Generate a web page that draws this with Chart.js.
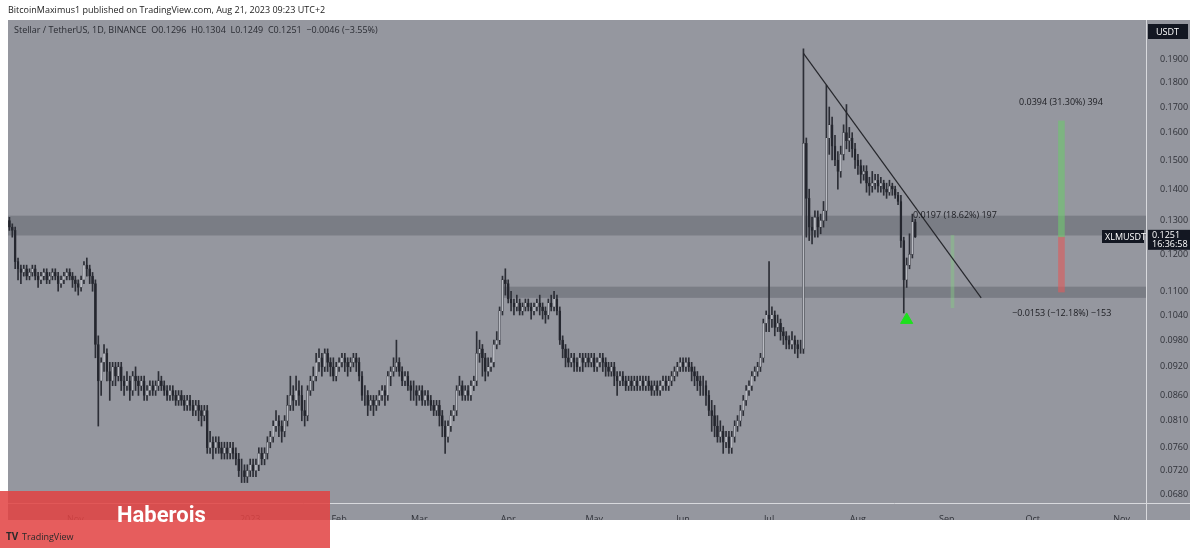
<!DOCTYPE html>
<html>
<head>
<meta charset="utf-8">
<script src="https://cdn.jsdelivr.net/npm/chart.js@4/dist/chart.umd.min.js"></script>
<style>
  html, body { margin: 0; padding: 0; background: #fff; }
  #wrap { position: relative; width: 1200px; height: 550px; }
</style>
</head>
<body>
<div id="wrap"><canvas id="xlmChart" width="1200" height="550"></canvas></div>
<script>
// daily candles XLM/USDT, 2022-10-09 .. 2023-08-21
const firstDay = '2022-10-09';
const lastAxisDay = '2023-11-09';
const firstOpen = 0.130;
const closes = [
  .128,.127,.118,.116,.115,.116,.114,.115,.116,.114,
  .113,.114,.115,.113,.114,.115,.114,.112,.113,.114,
  .115,.114,.113,.112,.111,.113,.117,.116,.114,.112,.097,.089,
  .093,.095,.091,.089,.092,.090,.092,.089,.088,.089,
  .087,.090,.089,.088,.089,.086,.087,.088,.087,.088,
  .089,.088,.087,.086,.087,.086,.085,.086,.085,.084,
  .085,.084,.083,.084,.083,.082,.083,.076,.077,.076,
  .077,.076,.075,.076,.075,.076,.075,.074,.072,.072,
  .071,.072,.073,.072,.073,.075,.074,.075,.077,.078,
  .080,.081,.080,.079,.081,.084,.086,.085,.087,.086,
  .083,.082,.087,.089,.090,.093,.094,.092,.095,.093,
  .092,.090,.092,.093,.094,.093,.092,.093,.094,.093,
  .090,.086,.086,.084,.085,.084,.085,.086,.087,.086,
  .090,.091,.092,.093,.091,.089,.090,.088,.087,.087,
  .086,.087,.085,.086,.085,.084,.083,.084,.082,.080,
  .078,.080,.082,.083,.087,.088,.086,.087,.086,.088,
  .089,.095,.096,.094,.091,.092,.093,.097,.098,.105,
  .113,.112,.108,.107,.106,.107,.105,.106,.107,.106,
  .105,.106,.107,.106,.105,.104,.107,.106,.108,.105,
  .098,.096,.094,.093,.094,.093,.092,.094,.093,.094,
  .093,.094,.092,.093,.094,.093,.092,.091,.092,.090,
  .089,.090,.089,.088,.089,.088,.089,.088,.089,.088,
  .089,.088,.087,.088,.087,.088,.089,.088,.089,.090,
  .091,.092,.093,.092,.093,.092,.091,.090,.089,.088,
  .088,.086,.083,.082,.080,.078,.079,.077,.078,.076,
  .078,.080,.081,.083,.085,.087,.088,.090,.091,.092,
  .094,.102,.104,.103,.104,.101,.102,.100,.099,.098,
  .097,.098,.097,.096,.096,
  .156,
  .137,.128,.127,.131,.128,.130,.133,.158,.163,.155,
  .150,.146,.152,.160,.157,.158,.154,.150,.148,.145,
  .146,.142,.141,.142,.143,.141,.142,.140,.139,.141,
  .140,.138,.136,.124,.113,.117,.120,.1296,.1251
];
const highs = [
  .131,.129,.128,.119,.117,.117,.117,.116,.117,.117,
  .115,.115,.116,.116,.115,.116,.116,.115,.114,.115,
  .116,.116,.115,.114,.113,.114,.118,.119,.117,.115,.113,.099,
  .094,.097,.096,.093,.093,.093,.093,.093,.090,.091,
  .090,.091,.092,.090,.090,.090,.088,.089,.089,.089,
  .091,.090,.089,.088,.088,.088,.087,.087,.087,.086,
  .086,.086,.085,.085,.085,.084,.084,.084,.079,.078,
  .078,.078,.077,.077,.077,.077,.077,.076,.075,.074,
  .073,.073,.074,.074,.074,.076,.076,.076,.078,.079,
  .081,.083,.082,.081,.082,.086,.090,.088,.090,.089,
  .088,.085,.088,.090,.092,.095,.096,.095,.096,.096,
  .094,.094,.093,.094,.095,.095,.094,.094,.095,.095,
  .094,.091,.088,.087,.086,.086,.086,.087,.088,.088,
  .091,.092,.094,.098,.094,.092,.091,.091,.089,.089,
  .088,.088,.088,.087,.087,.086,.085,.085,.085,.083,
  .081,.081,.083,.084,.088,.090,.089,.088,.088,.089,
  .090,.100,.098,.097,.095,.094,.094,.098,.100,.106,
  .114,.116,.113,.110,.108,.109,.108,.107,.108,.108,
  .107,.107,.108,.109,.107,.106,.108,.109,.110,.109,
  .106,.099,.097,.096,.095,.095,.094,.095,.095,.095,
  .095,.095,.095,.094,.095,.095,.094,.093,.093,.093,
  .091,.091,.091,.090,.090,.090,.090,.090,.090,.090,
  .090,.090,.089,.089,.089,.089,.090,.090,.090,.091,
  .092,.093,.094,.094,.094,.094,.093,.092,.091,.090,
  .090,.089,.087,.085,.084,.082,.081,.080,.079,.079,
  .079,.081,.082,.084,.086,.088,.089,.091,.092,.093,
  .095,.103,.105,.118,.106,.105,.104,.103,.101,.100,
  .099,.100,.099,.098,.098,
  .195,
  .158,.140,.131,.133,.133,.132,.136,.179,.170,.166,
  .159,.153,.155,.163,.171,.162,.160,.156,.152,.150,
  .148,.148,.144,.146,.145,.145,.144,.143,.142,.143,
  .142,.141,.139,.138,.125,.119,.126,.1320,.1304
];
const lows = [
  .127,.125,.116,.113,.112,.114,.113,.113,.114,.113,
  .111,.112,.113,.112,.112,.113,.113,.110,.111,.112,
  .113,.113,.111,.110,.109,.110,.112,.114,.112,.110,.094,.080,
  .086,.091,.089,.085,.088,.088,.089,.087,.086,.087,
  .085,.086,.087,.086,.087,.085,.085,.086,.086,.086,
  .087,.087,.086,.085,.085,.085,.084,.084,.084,.083,
  .083,.083,.082,.082,.081,.080,.081,.075,.075,.074,
  .075,.075,.074,.074,.074,.074,.074,.073,.071,.070,
  .070,.070,.071,.071,.071,.072,.073,.073,.074,.076,
  .077,.079,.078,.077,.078,.080,.083,.083,.084,.084,
  .081,.080,.081,.086,.087,.089,.091,.090,.091,.091,
  .090,.089,.089,.091,.092,.091,.090,.091,.092,.091,
  .089,.085,.084,.082,.083,.082,.083,.084,.085,.084,
  .085,.088,.090,.091,.090,.088,.088,.087,.085,.085,
  .084,.085,.084,.084,.084,.083,.082,.082,.080,.078,
  .075,.077,.079,.081,.082,.086,.085,.085,.085,.085,
  .087,.088,.093,.090,.089,.090,.091,.092,.096,.097,
  .104,.109,.107,.105,.104,.105,.104,.104,.105,.105,
  .103,.104,.105,.104,.103,.102,.103,.105,.105,.104,
  .097,.094,.092,.092,.092,.091,.091,.091,.091,.092,
  .092,.092,.091,.091,.092,.091,.090,.090,.090,.088,
  .086,.088,.088,.087,.087,.087,.087,.087,.087,.087,
  .087,.087,.086,.086,.086,.086,.087,.087,.087,.088,
  .089,.090,.091,.091,.091,.091,.089,.088,.087,.086,
  .086,.084,.082,.079,.078,.077,.077,.075,.076,.075,
  .075,.077,.079,.080,.082,.084,.086,.087,.089,.090,
  .091,.093,.100,.100,.101,.099,.100,.098,.097,.096,
  .096,.096,.095,.094,.095,
  .095,
  .125,.124,.123,.125,.125,.126,.128,.130,.152,.150,
  .148,.140,.144,.150,.154,.153,.151,.147,.145,.142,
  .143,.139,.138,.139,.140,.139,.139,.138,.137,.138,
  .138,.137,.135,.122,.1045,.111,.116,.1190,.1249
];
const priceTicks = [0.068, 0.072, 0.076, 0.081, 0.086, 0.092, 0.098, 0.104, 0.11, 0.12, 0.13, 0.14, 0.15, 0.16, 0.17, 0.18, 0.19];
const monthNames = ['2023','Feb','Mar','Apr','May','Jun','Jul','Aug','Sep','Oct','Nov','Dec'];

// trendline and trade boxes
const trendIdx = [277, 339];
const trendVals = [0.193, 0.1083];
const measureIdx = 329, measureRange = [0.1058, 0.1255];
const posIdx = 367, targetRange = [0.1251, 0.1645], stopRange = [0.1098, 0.1251];
const arrowIdx = 313, arrowVal = 0.1028;

const labels = [];
for (let d = new Date(firstDay + 'T00:00:00Z'); d <= new Date(lastAxisDay + 'T00:00:00Z'); d.setUTCDate(d.getUTCDate() + 1)) {
    labels.push(d.toISOString().slice(0, 10));
}
const N = labels.length;
const opens = closes.map((c, i) => i ? closes[i - 1] : firstOpen);
const bodies = closes.map((c, i) => [opens[i], c]);
const wicks = closes.map((c, i) => [lows[i], highs[i]]);
const bodyFill = closes.map((c, i) => c >= opens[i] ? '#b9bbc2' : '#24262e');

function sparse(pairs) {
    const a = new Array(N).fill(null);
    pairs.forEach(([i, v]) => a[i] = v);
    return a;
}

const overlay = {
    id: 'overlay',
    beforeDatasetsDraw(chart) {
        const { ctx, chartArea: a, scales: { x, y } } = chart;
        ctx.save();
        ctx.fillStyle = 'rgba(55,58,68,0.28)';
        let t = y.getPixelForValue(0.1315), b = y.getPixelForValue(0.1255);
        ctx.fillRect(a.left, t, a.right - a.left, b - t);
        t = y.getPixelForValue(0.1112); b = y.getPixelForValue(0.1083);
        const x0 = x.getPixelForValue(172);
        ctx.fillRect(x0, t, a.right - x0, b - t);
        ctx.restore();
    },
    afterDraw(chart) {
        const { ctx, chartArea: a, scales: { x, y } } = chart;
        ctx.save();
        ctx.font = '9px "Open Sans", sans-serif';
        ctx.fillStyle = '#222';
        ctx.textBaseline = 'middle';
        ctx.fillText('BitcoinMaximus1 published on TradingView.com, Aug 21, 2023 09:23 UTC+2', 8, 10);
        ctx.fillStyle = '#2a2c33';
        ctx.fillText('Stellar / TetherUS, 1D, BINANCE  O0.1296  H0.1304  L0.1249  C0.1251  \u22120.0046 (\u22123.55%)', 14, 30);
        ctx.fillStyle = '#1c1d22';
        ctx.fillText('0.0394 (31.30%) 394', 1019, y.getPixelForValue(0.172));
        ctx.fillText('0.0197 (18.62%) 197', 913, y.getPixelForValue(0.1315));
        ctx.fillText('\u22120.0153 (\u221212.18%) \u2212153', 1012, y.getPixelForValue(0.1045));

        // axis separators
        ctx.strokeStyle = '#d8d9dd';
        ctx.lineWidth = 1;
        ctx.beginPath();
        ctx.moveTo(a.right + 0.5, 20); ctx.lineTo(a.right + 0.5, 520);
        ctx.moveTo(8, a.bottom + 0.5); ctx.lineTo(1190, a.bottom + 0.5);
        ctx.stroke();

        // tags
        ctx.fillStyle = '#131722';
        ctx.fillRect(1148, 24, 40, 15);
        ctx.fillRect(1102, 230, 42, 13);
        const py = y.getPixelForValue(0.1251);
        ctx.fillRect(a.right + 2, py - 7, 42, 20);
        ctx.fillStyle = '#fff';
        ctx.fillText('USDT', 1156, 32);
        ctx.fillText('XLMUSDT', 1105, 237);
        ctx.fillText('0.1251', a.right + 6, py - 1);
        ctx.fillText('16:36:58', a.right + 6, py + 8);

        // watermark box
        ctx.fillStyle = 'rgba(226,66,66,0.86)';
        ctx.fillRect(0, 491, 330, 57);
        ctx.fillStyle = '#fff';
        ctx.font = 'bold 22px Roboto, sans-serif';
        ctx.fillText('Haberois', 117, 516);
        ctx.fillStyle = '#2a2a2a';
        ctx.font = 'bold 10px "Open Sans", sans-serif';
        ctx.fillText('TV', 6, 537);
        ctx.font = '9px "Open Sans", sans-serif';
        ctx.fillText('TradingView', 22, 537);
        ctx.restore();
    }
};

const bgPlugin = {
    id: 'bg',
    beforeDraw(chart) {
        const { ctx } = chart;
        ctx.save();
        ctx.fillStyle = '#fff';
        ctx.fillRect(0, 0, 1200, 550);
        ctx.fillStyle = '#95979f';
        ctx.fillRect(8, 20, 1182, 500);
        ctx.restore();
    }
};

document.addEventListener('DOMContentLoaded', function () {
    const ctx = document.getElementById('xlmChart').getContext('2d');
    new Chart(ctx, {
        type: 'bar',
        data: {
            labels: labels,
            datasets: [
                {
                    label: 'wick', data: wicks, backgroundColor: '#2c2e36',
                    barThickness: 1, grouped: false, order: 3
                },
                {
                    label: 'body', data: bodies, backgroundColor: bodyFill,
                    borderColor: '#2c2e36', borderWidth: 0.4, borderSkipped: false,
                    barThickness: 2, grouped: false, order: 2
                },
                {
                    label: 'measure', data: sparse([[measureIdx, measureRange]]),
                    backgroundColor: 'rgba(130,205,130,0.45)', barThickness: 3, grouped: false, order: 4
                },
                {
                    label: 'target', data: sparse([[posIdx, targetRange]]),
                    backgroundColor: 'rgba(110,200,110,0.6)', barThickness: 6, grouped: false, order: 4
                },
                {
                    label: 'stop', data: sparse([[posIdx, stopRange]]),
                    backgroundColor: 'rgba(225,90,90,0.6)', barThickness: 6, grouped: false, order: 4
                },
                {
                    type: 'line', label: 'trend',
                    data: sparse(trendIdx.map((i, k) => [i, trendVals[k]])),
                    borderColor: '#26272c', borderWidth: 1.2, pointRadius: 0, spanGaps: true, order: 1
                },
                {
                    type: 'line', label: 'arrow', data: sparse([[arrowIdx, arrowVal]]),
                    showLine: false, pointStyle: 'triangle', pointRadius: 7,
                    backgroundColor: '#1ee01e', borderColor: '#1ee01e', order: 0
                }
            ]
        },
        options: {
            responsive: false,
            animation: false,
            layout: { padding: { left: 8, top: 20, right: 10, bottom: 30 } },
            plugins: { legend: { display: false }, tooltip: { enabled: false } },
            scales: {
                x: {
                    grid: { display: false },
                    border: { display: false },
                    afterFit(s) { s.height = 17; },
                    ticks: {
                        autoSkip: false, maxRotation: 0, color: '#2f3138', padding: 3,
                        font: { size: 9, family: '"Open Sans", sans-serif' },
                        callback(v, i) {
                            const l = labels[i];
                            if (!l || l.slice(8) !== '01') return '';
                            const m = +l.slice(5, 7);
                            if (m === 1) return l.slice(0, 4);
                            return monthNames[m - 1];
                        }
                    }
                },
                y: {
                    type: 'logarithmic',
                    position: 'right',
                    min: 0.0667,
                    max: 0.2088,
                    grid: { display: false },
                    border: { display: false },
                    afterFit(s) { s.width = 44; },
                    afterBuildTicks(s) { s.ticks = priceTicks.map(v => ({ value: v })); },
                    ticks: {
                        color: '#2f3138', padding: 6,
                        font: { size: 9, family: '"Open Sans", sans-serif' },
                        callback: v => v.toFixed(4)
                    }
                }
            }
        },
        plugins: [bgPlugin, overlay]
    });
});
</script>
</body>
</html>
